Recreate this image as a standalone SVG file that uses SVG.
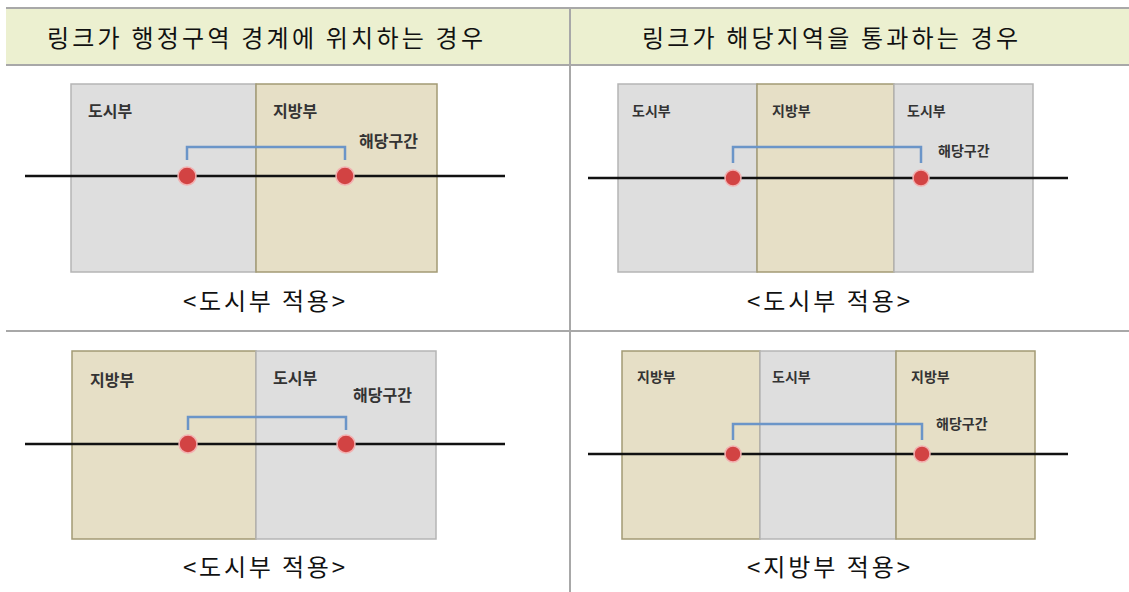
<svg xmlns="http://www.w3.org/2000/svg" width="1129" height="592" viewBox="0 0 1129 592">
<style>
.hdr{font-family:"Noto Sans CJK KR","Noto Sans",sans-serif;font-size:24px;fill:#111}
.cap{font-family:"Noto Sans CJK KR","Noto Sans",sans-serif;font-size:24px;fill:#111}
.lb{font-family:"Noto Sans CJK KR","Noto Sans",sans-serif;font-weight:bold;fill:#333}
.lbL{font-size:16px}
.lbR{font-size:14px}
.gray{fill:#dedede;stroke:#b5b5b5;stroke-width:1.5}
.tan{fill:#e6dfc6;stroke:#a39a74;stroke-width:1.5}
.road{stroke:#111;stroke-width:2.5}
.br{fill:none;stroke:#6b95c8;stroke-width:2.5}
.dot{fill:#d24343;stroke:#f2b0b0;stroke-width:1.5}
.grid{stroke:#a8a8a8;stroke-width:2;fill:none}
</style>
<rect width="1129" height="592" fill="#ffffff"/>
<g id="table">
<rect x="6" y="8" width="1123" height="57" fill="#ecf0d0"/>
<line class="grid" x1="6" y1="8" x2="1129" y2="8"/>
<line class="grid" x1="6" y1="65" x2="1129" y2="65"/>
<line class="grid" x1="6" y1="331" x2="1129" y2="331"/>
<line class="grid" x1="570" y1="8" x2="570" y2="592"/>
<text class="hdr" x="47" y="47" textLength="436" lengthAdjust="spacing">링크가 행정구역 경계에 위치하는 경우</text>
<text class="hdr" x="642" y="47" textLength="376" lengthAdjust="spacing">링크가 해당지역을 통과하는 경우</text>
</g>
<g id="panel-top-left">
<rect class="gray" x="71" y="84" width="185" height="188"/>
<rect class="tan" x="256" y="84" width="181" height="188"/>
<text class="lb lbL" x="88" y="117">도시부</text>
<text class="lb lbL" x="273" y="117">지방부</text>
<text class="lb lbL" x="359" y="147">해당구간</text>
<text class="cap" x="183" y="310" textLength="162" lengthAdjust="spacing">&lt;도시부 적용&gt;</text>
</g>
<g id="panel-top-right">
<rect class="gray" x="618" y="84" width="139" height="188"/>
<rect class="tan" x="757" y="84" width="137" height="188"/>
<rect class="gray" x="894" y="84" width="139" height="188"/>
<text class="lb lbR" x="632" y="116">도시부</text>
<text class="lb lbR" x="772" y="116">지방부</text>
<text class="lb lbR" x="907" y="116">도시부</text>
<text class="lb lbR" x="938" y="156">해당구간</text>
<text class="cap" x="747" y="310" textLength="163" lengthAdjust="spacing">&lt;도시부 적용&gt;</text>
</g>
<g id="panel-bottom-left">
<rect class="tan" x="72" y="351" width="184" height="188"/>
<rect class="gray" x="256" y="351" width="180" height="188"/>
<text class="lb lbL" x="90" y="386">지방부</text>
<text class="lb lbL" x="273" y="384">도시부</text>
<text class="lb lbL" x="353" y="401">해당구간</text>
<text class="cap" x="183" y="576" textLength="162" lengthAdjust="spacing">&lt;도시부 적용&gt;</text>
</g>
<g id="panel-bottom-right">
<rect class="tan" x="622" y="351" width="138" height="188"/>
<rect class="gray" x="760" y="351" width="136" height="188"/>
<rect class="tan" x="896" y="351" width="139" height="188"/>
<text class="lb lbR" x="637" y="382">지방부</text>
<text class="lb lbR" x="772" y="382">도시부</text>
<text class="lb lbR" x="911" y="382">지방부</text>
<text class="lb lbR" x="936" y="429">해당구간</text>
<text class="cap" x="747" y="576" textLength="163" lengthAdjust="spacing">&lt;지방부 적용&gt;</text>
</g>
<g id="connectors">
<line class="road" x1="25" y1="176" x2="505" y2="176"/>
<path class="br" d="M187,160 V147 H345 V160"/>
<line class="road" x1="588" y1="178" x2="1068" y2="178"/>
<path class="br" d="M733,163 V147 H921 V163"/>
<line class="road" x1="25" y1="444" x2="505" y2="444"/>
<path class="br" d="M188,430 V417 H346 V430"/>
<line class="road" x1="588" y1="454" x2="1068" y2="454"/>
<path class="br" d="M733,440 V424 H922 V440"/>
</g>
<g id="points">
<circle class="dot" cx="187" cy="176" r="9"/>
<circle class="dot" cx="345" cy="176" r="9"/>
<circle class="dot" cx="733" cy="178" r="8"/>
<circle class="dot" cx="921" cy="178" r="8"/>
<circle class="dot" cx="188" cy="444" r="9"/>
<circle class="dot" cx="346" cy="444" r="9"/>
<circle class="dot" cx="733" cy="454" r="8"/>
<circle class="dot" cx="922" cy="454" r="8"/>
</g>
</svg>
